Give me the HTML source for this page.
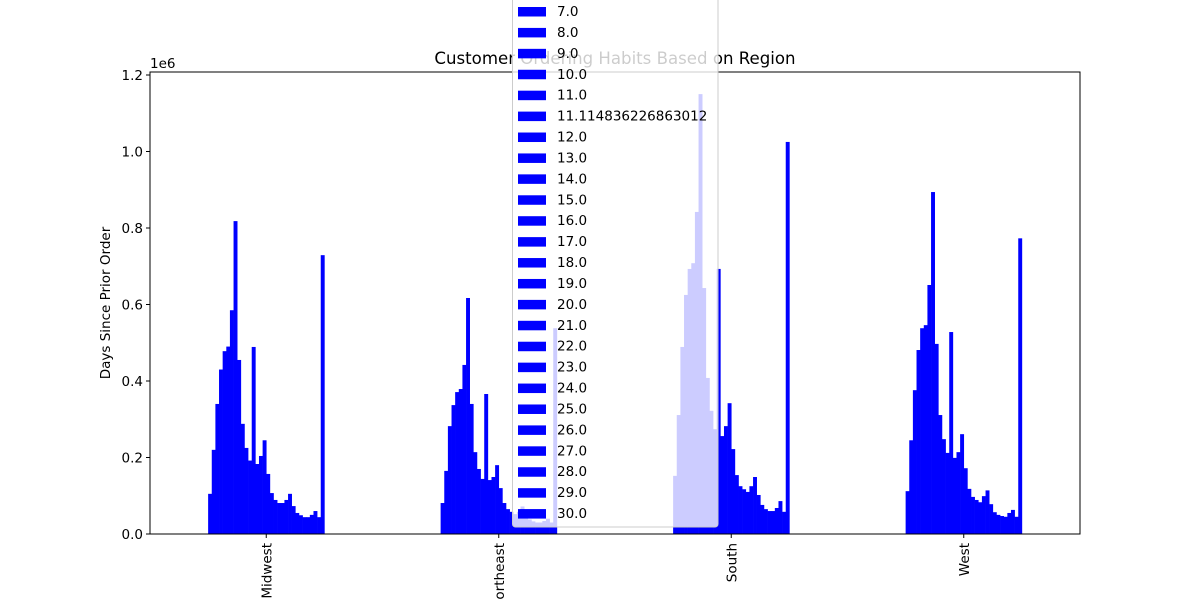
<!DOCTYPE html>
<html><head><meta charset="utf-8"><style>
html,body{margin:0;padding:0;background:#fff;}
svg text{font-family:"DejaVu Sans","Liberation Sans",sans-serif;}
</style></head><body>
<svg id="chart" width="1200" height="600" viewBox="0 0 1200 600" xmlns="http://www.w3.org/2000/svg">
<rect x="0" y="0" width="1200" height="600" fill="#fff"/>
<g id="bars"></g>
<g id="axes"></g>
<text x="615" y="64" font-size="16.6" text-anchor="middle" fill="#000">Customer Ordering Habits Based on Region</text>
<g id="legend"></g>
</svg>
<script>
const regions = ["Midwest","Northeast","South","West"];
const seriesLabels = ["0.0","1.0","2.0","3.0","4.0","5.0","6.0","7.0","8.0","9.0","10.0","11.0","11.114836226863012","12.0","13.0","14.0","15.0","16.0","17.0","18.0","19.0","20.0","21.0","22.0","23.0","24.0","25.0","26.0","27.0","28.0","29.0","30.0"];
const midwest = [0.105,0.22,0.34,0.43,0.478,0.49,0.585,0.818,0.455,0.288,0.225,0.192,0.489,0.183,0.204,0.245,0.157,0.107,0.089,0.081,0.081,0.089,0.105,0.073,0.055,0.049,0.044,0.044,0.05,0.06,0.044,0.729];
const northeast = [0.081,0.165,0.282,0.337,0.371,0.379,0.442,0.617,0.34,0.214,0.17,0.144,0.366,0.141,0.149,0.18,0.12,0.081,0.065,0.058,0.052,0.058,0.072,0.05,0.038,0.033,0.03,0.03,0.034,0.04,0.03,0.538];
const south = [0.152,0.311,0.489,0.625,0.693,0.708,0.842,1.15,0.643,0.408,0.322,0.274,0.693,0.256,0.282,0.342,0.222,0.154,0.125,0.117,0.11,0.125,0.149,0.102,0.076,0.065,0.06,0.06,0.068,0.086,0.058,1.025];
const west = [0.112,0.245,0.376,0.481,0.538,0.546,0.651,0.894,0.497,0.311,0.248,0.212,0.528,0.199,0.214,0.261,0.172,0.118,0.097,0.089,0.083,0.099,0.114,0.078,0.057,0.05,0.047,0.045,0.055,0.063,0.045,0.773];
const yTicks = [0.0,0.2,0.4,0.6,0.8,1.0,1.2];
const yTickLabels = ["0.0","0.2","0.4","0.6","0.8","1.0","1.2"];

const NS="http://www.w3.org/2000/svg";
const L=150,R=1080,T=72,B=534;
const yScale=v=>B-v*382.5;
const groupW=(R-L)/regions.length;
const xCenter=i=>L+groupW*(i+0.5);
const barW=groupW*0.5/seriesLabels.length;
function mk(tag,attrs,parent){const e=document.createElementNS(NS,tag);for(const k in attrs)e.setAttribute(k,attrs[k]);parent.appendChild(e);return e;}
const barsG=document.getElementById('bars');
const allData=[midwest,northeast,south,west];
allData.forEach((arr,gi)=>{
  const start=xCenter(gi)-groupW*0.25;
  arr.forEach((v,si)=>{
    const r=mk('rect',{x:start+si*barW,y:yScale(v),width:barW+0.3,height:B-yScale(v),fill:'#0000ff'},barsG);
    
    
  });
});
const ax=document.getElementById('axes');
const frame=mk('rect',{x:L,y:T,width:R-L,height:B-T,fill:'none',stroke:'#000','stroke-width':1},ax);


yTicks.forEach((t,i)=>{
  const y=yScale(t);
  const tk=mk('line',{x1:L-4,x2:L,y1:y,y2:y,stroke:'#000'},ax);
  
  
  const tx=mk('text',{x:L-7,y:y+5,'font-size':13.5,'text-anchor':'end'},ax);
  tx.textContent=yTickLabels[i];
  
  
});
const e6=mk('text',{x:L,y:T-4,'font-size':13.5},ax);e6.textContent='1e6';


const yt=mk('text',{x:0,y:0,'font-size':13.5,'text-anchor':'middle',transform:'translate(110,303) rotate(-90)'},ax);yt.textContent='Days Since Prior Order';


regions.forEach((r,i)=>{
  const x=xCenter(i);
  const tk=mk('line',{x1:x,x2:x,y1:B,y2:B+4,stroke:'#000'},ax);
  
  
  const tx=mk('text',{x:0,y:0,'font-size':13.5,'text-anchor':'end',transform:`translate(${x+5},${B+9}) rotate(-90)`},ax);
  tx.textContent=r;
  
  
});
const lg=document.getElementById('legend');
const sp=20.92;
const firstY=11-7*sp;
const box=mk('rect',{x:512.5,y:firstY-14,width:205.5,height:527-(firstY-14),rx:3,fill:'#fff','fill-opacity':0.8,stroke:'#cccccc'},lg);


seriesLabels.forEach((s,i)=>{
  const y=firstY+i*sp;
  const h=mk('rect',{x:518,y:y-4,width:28,height:9.5,fill:'#0000ff'},lg);
  
  
  const t=mk('text',{x:557,y:y+5,'font-size':13.5},lg);
  t.textContent=s;
  
  
});
</script>
</body></html>
